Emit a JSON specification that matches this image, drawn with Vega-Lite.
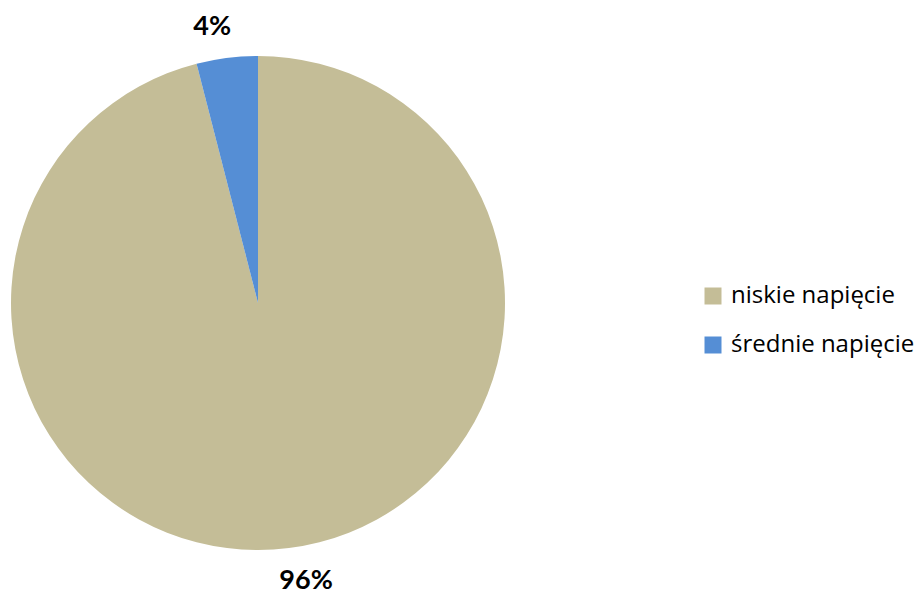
{
  "$schema": "https://vega.github.io/schema/vega-lite/v6.json",
  "width": 494,
  "height": 494,
  "padding": {"left": 11, "top": 11, "right": 0, "bottom": 0},
  "background": "white",
  "config": {"view": {"stroke": null}, "font": "Lato"},
  "data": {"values": [
    {"category": "niskie napięcie", "value": 96, "label": "96%"},
    {"category": "średnie napięcie", "value": 4, "label": "4%"}
  ]},
  "encoding": {
    "theta": {"field": "value", "type": "quantitative", "stack": true},
    "order": {"field": "value", "type": "quantitative", "sort": "descending"}
  },
  "layer": [
    {
      "mark": {"type": "arc"},
      "encoding": {
        "color": {
          "field": "category", "type": "nominal",
          "scale": {"domain": ["niskie napięcie", "średnie napięcie"], "range": ["#C4BD97", "#558ED5"]},
          "legend": {
            "title": null, "orient": "none", "legendX": 690, "legendY": 228,
            "symbolType": "square", "symbolSize": 289, "symbolStrokeWidth": 0,
            "labelFontSize": 24, "labelFont": "Open Sans", "labelColor": "#000000",
            "labelLimit": 400, "rowPadding": 25, "labelOffset": 6
          }
        }
      }
    },
    {
      "mark": {"type": "text", "radius": 280, "fontSize": 27, "fontWeight": "bold", "color": "#000000", "dx": 13},
      "encoding": {
        "detail": {"field": "category"},
        "text": {"condition": {"test": "datum.category == 'niskie napięcie'", "field": "label"}, "value": ""}
      }
    },
    {
      "mark": {"type": "text", "radius": 278, "fontSize": 27, "fontWeight": "bold", "color": "#000000", "dx": -11},
      "encoding": {
        "detail": {"field": "category"},
        "text": {"condition": {"test": "datum.category == 'średnie napięcie'", "field": "label"}, "value": ""}
      }
    }
  ]
}
